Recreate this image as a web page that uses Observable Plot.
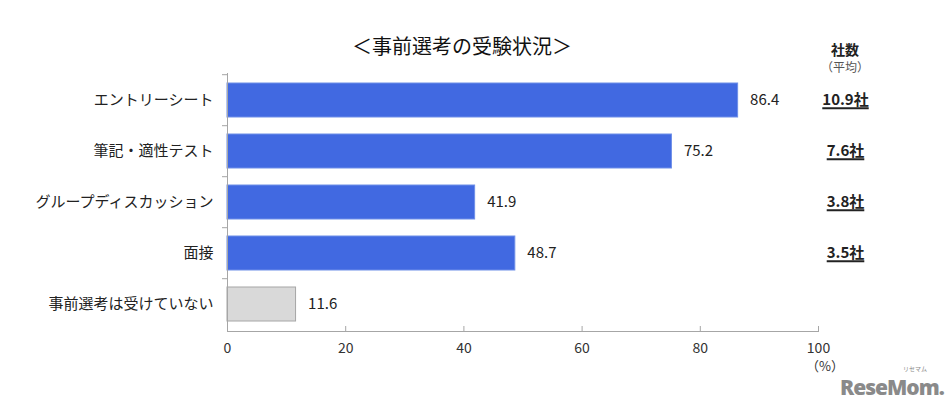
<!DOCTYPE html>
<html><head><meta charset="utf-8">
<script src="https://cdn.jsdelivr.net/npm/d3@7"></script>
<script src="https://cdn.jsdelivr.net/npm/@observablehq/plot@0.6"></script>
<style>
body{margin:0;background:#fff;font-family:"Noto Sans CJK JP","Noto Sans",sans-serif;}
#wrap{position:relative;width:950px;height:406px;overflow:hidden;}
.ov{position:absolute;white-space:nowrap;color:#222;}
#title{left:0;width:924px;top:32px;text-align:center;font-size:20px;line-height:28px;color:#111;}
#h1{left:805px;width:80px;top:39px;text-align:center;font-size:14px;font-weight:bold;line-height:20px;}
#h2{left:805px;width:80px;top:58px;text-align:center;font-size:12px;color:#555;line-height:18px;}
#pct{left:806px;top:357px;font-size:13px;color:#333;line-height:18px;}
#logo{left:840px;top:375px;font-family:"Open Sans","DejaVu Sans",sans-serif;font-weight:800;font-size:21px;color:#8a8a8a;letter-spacing:-1px;line-height:24px;}
#logo2{left:903px;top:365px;font-size:6px;color:#8a8a8a;line-height:8px;}
</style></head>
<body><div id="wrap">
<div class="ov" id="title">＜事前選考の受験状況＞</div>
<div class="ov" id="h1">社数</div>
<div class="ov" id="h2">（平均）</div>
<div class="ov" id="pct">（%）</div>
<div class="ov" id="logo">ReseMom.</div>
<div class="ov" id="logo2">リセマム</div>
</div>
<script>
const categories = ["エントリーシート","筆記・適性テスト","グループディスカッション","面接","事前選考は受けていない"];
const values = [86.4, 75.2, 41.9, 48.7, 11.6];
const counts = ["10.9社","7.6社","3.8社","3.5社",""];
const highlighted = [true, true, true, true, false];
const xTicks = [0, 20, 40, 60, 80, 100];

const data = categories.map((c, i) => ({cat: c, value: values[i], count: counts[i], main: highlighted[i]}));
const font = '"Noto Sans CJK JP","Noto Sans",sans-serif';

const chart = Plot.plot({
  width: 950, height: 406,
  marginLeft: 227, marginRight: 132, marginTop: 73, marginBottom: 75,
  style: {fontFamily: font, background: "transparent", overflow: "visible"},
  x: {domain: [0, 100], axis: null, label: null},
  y: {domain: categories, paddingInner: 0.34, paddingOuter: 0.17, axis: null, label: null},
  marks: [
    Plot.barX(data, {x: "value", y: "cat",
      fill: d => d.main ? "#4169e1" : "#d9d9d9",
      stroke: d => d.main ? "#6f8fe8" : "#a6a6a6", strokeWidth: 1}),
    Plot.frame({anchor: "left", stroke: "#a6a6a6"}),
    Plot.frame({anchor: "bottom", stroke: "#a6a6a6"}),
    Plot.axisX({ticks: xTicks, tickSize: 5, dy: -5, tickFormat: () => "", stroke: "#a6a6a6", label: null}),
    Plot.axisX({ticks: xTicks, tickSize: 0, tickPadding: 12, fontSize: 14, fill: "#333", label: null}),
    Plot.axisY({tickSize: 5, dy: -25.8, tickFormat: () => "", stroke: "#a6a6a6", label: null}),
    Plot.axisY({tickSize: 0, tickPadding: 14, fontSize: 15, fill: "#222", label: null}),
    Plot.text(data, {x: "value", y: "cat", text: d => d.value.toFixed(1), dx: 12,
      textAnchor: "start", fontSize: 15, fill: "#222"}),
    Plot.text(data, {y: "cat", text: "count", frameAnchor: "right", dx: 27,
      textAnchor: "middle", fontSize: 15, fontWeight: "bold", fill: "#222"})
  ]
});
document.getElementById("wrap").prepend(chart);
chart.style.position = "absolute"; chart.style.left = "0"; chart.style.top = "0";
// underline the company counts
const svgEl = chart.tagName.toLowerCase() === "svg" ? chart : chart.querySelector("svg");
const svg = d3.select(svgEl);
const svgBox = svgEl.getBoundingClientRect();
svg.selectAll("text").filter(function() { return /社$/.test(this.textContent); }).each(function() {
  const r = this.getBoundingClientRect();
  const x0 = r.left - svgBox.left, x1 = r.right - svgBox.left;
  const y = r.bottom - svgBox.top - 1;
  svg.append("line").attr("x1", x0).attr("x2", x1).attr("y1", y).attr("y2", y)
    .attr("stroke", "#222").attr("stroke-width", 2);
});
</script>
</body></html>
